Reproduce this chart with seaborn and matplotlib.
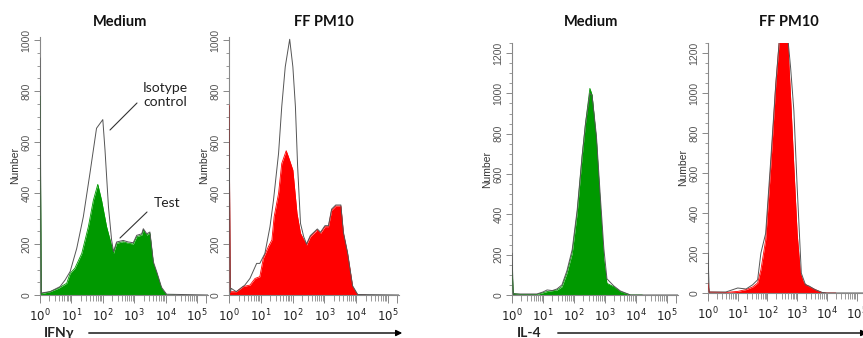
import numpy as np
import pandas as pd
import matplotlib
matplotlib.use("Agg")
import matplotlib.pyplot as plt
import seaborn as sns
from matplotlib.ticker import FixedLocator, NullFormatter, FixedFormatter

# ---------------- data (x in decades: log10 intensity) ----------------
titles = ["Medium", "FF PM10", "Medium", "FF PM10"]
markers = ["IFNγ", "IL-4"]

ifng_med_test_x = [0.0, 0.04, 0.32, 0.58, 0.85, 0.96, 1.11, 1.33, 1.54, 1.70, 1.84, 1.96, 2.12, 2.26, 2.34,
                   2.44, 2.65, 2.81, 2.97, 3.08, 3.24, 3.29, 3.40, 3.50, 3.61, 3.72, 3.87, 4.03, 4.3]
ifng_med_test_y = [780, 5, 13, 26, 46, 85, 105, 163, 268, 372, 434, 372, 268, 203, 163,
                   203, 209, 203, 200, 229, 235, 255, 235, 242, 124, 85, 26, 0, 0]
ifng_med_iso_x = [0.0, 0.04, 0.32, 0.64, 0.80, 0.96, 1.17, 1.38, 1.59, 1.80, 2.00, 2.07, 2.18, 2.28, 2.34,
                  2.44, 2.65, 2.81, 2.97, 3.08, 3.24, 3.29, 3.40, 3.50, 3.61, 3.72, 3.87, 4.03, 5.35]
ifng_med_iso_y = [930, 8, 13, 33, 59, 92, 183, 307, 477, 654, 688, 569, 346, 216, 170,
                  208, 214, 208, 205, 234, 240, 260, 240, 247, 130, 90, 30, 3, 0]

ifng_pm_test_x = [0.0, 0.04, 0.23, 0.44, 0.66, 0.82, 0.97, 1.08, 1.24, 1.35, 1.42, 1.56, 1.66, 1.80, 1.87,
                  2.01, 2.14, 2.25, 2.44, 2.56, 2.67, 2.78, 2.88, 3.02, 3.13, 3.23, 3.36, 3.52, 3.60,
                  3.73, 3.89, 4.05, 4.3]
ifng_pm_test_y = [745, 13, 13, 33, 39, 65, 72, 144, 190, 216, 307, 399, 516, 566, 542,
                  490, 320, 242, 196, 229, 242, 255, 242, 268, 268, 333, 349, 349, 242,
                  163, 33, 0, 0]
ifng_pm_iso_x = [0.0, 0.04, 0.07, 0.23, 0.50, 0.66, 0.87, 0.97, 1.13, 1.29, 1.40, 1.56, 1.66, 1.77, 1.91,
                 2.01, 2.09, 2.16, 2.25, 2.35, 2.44, 2.56, 2.67, 2.78, 2.88, 3.02, 3.13, 3.23, 3.36,
                 3.52, 3.60, 3.73, 3.89, 4.05, 5.35]
ifng_pm_iso_y = [740, 10, 26, 13, 39, 65, 124, 124, 163, 268, 372, 556, 739, 895, 1003,
                 895, 739, 503, 281, 229, 200, 233, 246, 259, 246, 272, 272, 337, 353,
                 353, 246, 167, 36, 2, 0]

il4_med_test_x = [0.0, 0.04, 0.27, 0.81, 1.13, 1.45, 1.61, 1.77, 1.94, 2.10, 2.26, 2.37, 2.51, 2.58,
                  2.72, 2.85, 2.96, 3.06, 3.28, 3.49, 3.82, 4.2]
il4_med_test_y = [140, 8, 3, 3, 17, 25, 41, 108, 207, 406, 687, 853, 1025, 993,
                  770, 439, 174, 58, 41, 17, 0, 0]
il4_med_iso_x = [0.0, 0.04, 0.8, 1.0, 1.13, 1.3, 1.45, 1.61, 1.77, 1.94, 2.10, 2.26, 2.37, 2.51, 2.58,
                 2.72, 2.85, 2.96, 3.06, 3.28, 3.49, 3.82, 5.35]
il4_med_iso_y = [207, 5, 5, 15, 25, 22, 30, 50, 120, 225, 420, 690, 850, 1000, 990,
                 790, 480, 230, 80, 45, 20, 0, 0]

il4_pm_test_x = [0.0, 0.04, 0.61, 1.0, 1.28, 1.5, 1.67, 1.78, 1.94, 2.11, 2.28, 2.42, 2.55, 2.67,
                 2.69, 2.78, 2.89, 3.0, 3.11, 3.22, 3.39, 3.61, 3.83, 4.0, 4.3]
il4_pm_test_y = [50, 5, 3, 8, 17, 30, 50, 116, 265, 629, 1043, 1300, 1320, 1300,
                 1242, 977, 629, 298, 99, 50, 33, 17, 3, 0, 0]
il4_pm_iso_x = [0.0, 0.04, 0.6, 1.0, 1.28, 1.5, 1.67, 1.78, 1.94, 2.11, 2.28, 2.42, 2.55, 2.67,
                2.78, 2.89, 3.0, 3.14, 3.28, 3.4, 3.6, 3.83, 4.0, 5.35]
il4_pm_iso_y = [200, 5, 5, 25, 20, 41, 66, 200, 298, 662, 1043, 1300, 1320, 1300,
                1126, 910, 530, 99, 41, 35, 17, 3, 0, 0]

panels = [
    (ifng_med_test_x, ifng_med_test_y, ifng_med_iso_x, ifng_med_iso_y, "#009900", 1012),
    (ifng_pm_test_x, ifng_pm_test_y, ifng_pm_iso_x, ifng_pm_iso_y, "#ff0000", 1012),
    (il4_med_test_x, il4_med_test_y, il4_med_iso_x, il4_med_iso_y, "#009900", 1250),
    (il4_pm_test_x, il4_pm_test_y, il4_pm_iso_x, il4_pm_iso_y, "#ff0000", 1250),
]

# ---------------- layout (pixel boxes: left, right, top, bottom) ----------------
W, H = 863, 338
boxes = [(40, 208, 37, 295), (229, 399, 37, 295), (512, 678, 43, 295), (708, 867, 43, 293)]
title_x = [120, 324, 591, 789]
XMAX_DEC = 5.35

sns.set_style("ticks")
plt.rcParams["font.family"] = ["Liberation Sans", "DejaVu Sans"]

fig = plt.figure(figsize=(W / 100, H / 100), dpi=100)

def fx(px):
    return px / W

def fy(py):
    return 1 - py / H

txtfam = ["Lato", "DejaVu Sans"]

for i, ((tx, ty, ix, iy, col, ymax), (l, r, t, b)) in enumerate(zip(panels, boxes)):
    ax = fig.add_axes([fx(l), fy(b), (r - l) / W, (b - t) / H])
    test = pd.DataFrame({"x": np.power(10.0, tx), "y": ty})
    iso = pd.DataFrame({"x": np.power(10.0, ix), "y": iy})
    ax.fill_between(test["x"], 0, test["y"], color=col, linewidth=0, zorder=2)
    sns.lineplot(data=test, x="x", y="y", ax=ax, color=col, linewidth=0.6, zorder=3)
    sns.lineplot(data=iso, x="x", y="y", ax=ax, color="#555555", linewidth=0.7, zorder=4)
    ax.set_xscale("log")
    ax.set_xlim(1, 10 ** XMAX_DEC)
    ax.set_ylim(0, ymax)
    for s in ["top", "right"]:
        ax.spines[s].set_visible(False)
    for s in ["left", "bottom"]:
        ax.spines[s].set_color("#888888")
        ax.spines[s].set_linewidth(0.8)
    majors = [10.0 ** k for k in range(6)] + [10 ** 5.3]
    ax.xaxis.set_major_locator(FixedLocator(majors))
    ax.xaxis.set_major_formatter(FixedFormatter([f"$10^{{{k}}}$" for k in range(6)] + [""]))
    minors = [m * 10.0 ** k for k in range(6) for m in range(2, 10) if m * 10.0 ** k < 10 ** 5.3]
    ax.xaxis.set_minor_locator(FixedLocator(minors))
    ax.xaxis.set_minor_formatter(NullFormatter())
    yt = np.arange(0, ymax + 1, 200)
    ax.yaxis.set_major_locator(FixedLocator(yt))
    ax.yaxis.set_minor_locator(FixedLocator(np.arange(0, ymax + 1, 50)))
    ax.tick_params(axis="x", which="both", bottom=True, top=False)
    ax.tick_params(axis="y", which="both", left=True, right=False)
    ax.tick_params(axis="x", which="major", direction="out", length=6, width=0.7, color="#888888",
                   labelsize=8.5, labelcolor="#222222", pad=3)
    ax.tick_params(axis="x", which="minor", direction="out", length=4, width=0.6, color="#888888")
    ax.tick_params(axis="y", which="major", direction="out", length=4, width=0.7, color="#888888",
                   labelsize=7.5, labelcolor="#555555", labelrotation=90, pad=2)
    ax.tick_params(axis="y", which="minor", direction="out", length=2.5, width=0.6, color="#888888")
    for lab in ax.get_yticklabels():
        lab.set_va("center")
    ax.set_xlabel("")
    ax.set_ylabel("Number", fontsize=7.5, color="#333333", labelpad=1)
    fig.text(fx(title_x[i]), fy(22), titles[i], fontsize=10.5, fontweight="bold", family=txtfam,
             color="#111111", ha="center", va="center")

# annotations in first panel (figure pixel coords)
fig.text(fx(143), fy(95), "Isotype\ncontrol", fontsize=10, family=txtfam, color="#222222",
         va="center", ha="left", linespacing=1.15)
fig.add_artist(plt.Line2D([fx(110), fx(137)], [fy(130), fy(103)], color="#333333", linewidth=0.8))
fig.text(fx(154), fy(203), "Test", fontsize=10, family=txtfam, color="#222222", va="center", ha="left")
fig.add_artist(plt.Line2D([fx(120), fx(147)], [fy(238), fy(212)], color="#333333", linewidth=0.8))

# marker labels with arrows at bottom
fig.text(fx(44), fy(327), markers[0], fontsize=10, fontweight="bold", family=txtfam, va="top", ha="left")
fig.text(fx(517), fy(327), markers[1], fontsize=10, fontweight="bold", family=txtfam, va="top", ha="left")
fig.add_artist(matplotlib.patches.FancyArrowPatch((fx(86), fy(333)), (fx(405), fy(333)),
               transform=fig.transFigure, arrowstyle="-|>", mutation_scale=9, linewidth=1.0, color="black"))
fig.add_artist(matplotlib.patches.FancyArrowPatch((fx(555), fy(333)), (fx(870), fy(333)),
               transform=fig.transFigure, arrowstyle="-|>", mutation_scale=9, linewidth=1.0, color="black"))

fig.savefig("out.png", dpi=100)
